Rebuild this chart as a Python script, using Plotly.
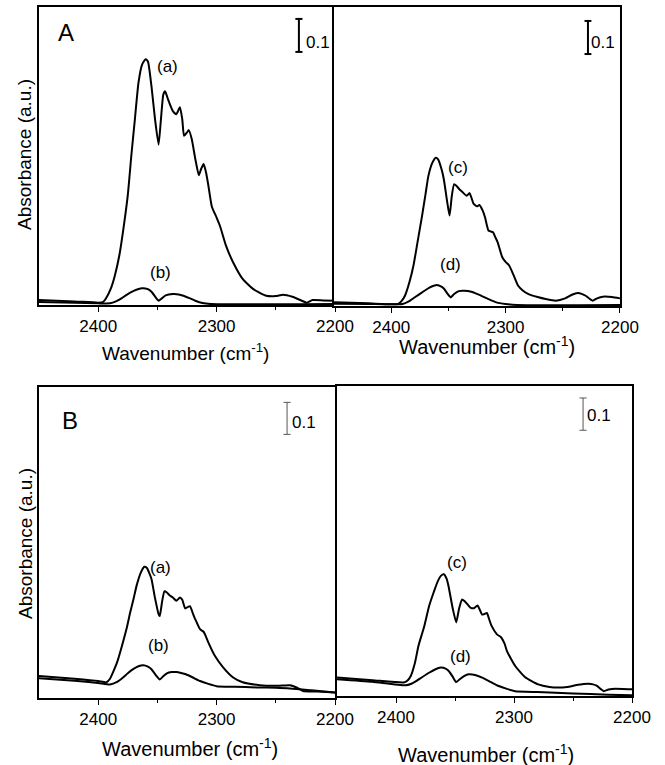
import plotly.graph_objects as go

# ---------------- data (wavenumber, absorbance) ----------------
A_a_x = [2450, 2420, 2400, 2396, 2393, 2389, 2386, 2382, 2379, 2375, 2372, 2369, 2366, 2363, 2360, 2358,
         2355, 2352, 2349, 2347, 2345, 2343.5, 2341, 2337, 2334, 2331, 2329, 2327.5, 2325, 2323.5, 2321,
         2318, 2315, 2313, 2311, 2309, 2307, 2304, 2300, 2297, 2292, 2286, 2278, 2269, 2258, 2250, 2244,
         2236, 2228, 2224, 2219, 2210, 2200]
A_a_y = [0.012, 0.008, 0.004, 0.006, 0.02, 0.05, 0.085, 0.15, 0.22, 0.33, 0.45, 0.56, 0.67, 0.725, 0.742, 0.735,
         0.66, 0.56, 0.483, 0.56, 0.635, 0.645, 0.62, 0.585, 0.575, 0.596, 0.56, 0.51, 0.52, 0.527, 0.5,
         0.44, 0.39, 0.41, 0.424, 0.40, 0.36, 0.295, 0.262, 0.235, 0.176, 0.126, 0.076, 0.045, 0.025, 0.024, 0.028,
         0.022, 0.01, 0.004, 0.012, 0.011, 0.010]

A_b_x = [2450, 2420, 2400, 2390, 2385, 2380, 2376, 2370, 2363, 2358, 2355, 2351, 2349, 2346, 2343, 2337,
         2332, 2328, 2323, 2318, 2312, 2305, 2200]
A_b_y = [0.006, 0.004, 0.002, 0.002, 0.008, 0.018, 0.028, 0.040, 0.048, 0.045, 0.037, 0.018, 0.010, 0.018, 0.026, 0.030,
         0.029, 0.025, 0.018, 0.010, 0.003, 0.0, 0.0]

A_c_x = [2450, 2420, 2394, 2391, 2388, 2384, 2380.5, 2377, 2373, 2370, 2367.5, 2364, 2361, 2359, 2356, 2354,
         2351, 2349, 2347, 2345, 2343, 2340, 2338, 2334, 2331.5, 2329, 2328, 2325, 2323, 2320, 2318, 2315,
         2313, 2311, 2309, 2307, 2303, 2300, 2297, 2293, 2289, 2285, 2280, 2272, 2265, 2256, 2248, 2242,
         2237, 2233, 2230, 2224, 2220, 2215, 2207, 2200]
A_c_y = [0.008, 0.005, 0.003, 0.012, 0.028, 0.07, 0.12, 0.19, 0.27, 0.335, 0.39, 0.43, 0.445, 0.44, 0.41, 0.38,
         0.31, 0.27, 0.33, 0.365, 0.36, 0.348, 0.342, 0.33, 0.338, 0.315, 0.306, 0.298, 0.302, 0.285, 0.265, 0.225,
         0.222, 0.22, 0.205, 0.19, 0.145, 0.13, 0.12, 0.09, 0.058, 0.044, 0.033, 0.024, 0.018, 0.013, 0.02, 0.031,
         0.036, 0.033, 0.028, 0.013, 0.02, 0.025, 0.024, 0.02]

A_d_x = [2450, 2420, 2390, 2385, 2380, 2373, 2367, 2361, 2357, 2354, 2351, 2348, 2345, 2341, 2336, 2330,
         2324, 2315, 2308, 2300, 2290, 2200]
A_d_y = [0.004, 0.003, 0.003, 0.01, 0.022, 0.038, 0.052, 0.06, 0.057, 0.05, 0.035, 0.023, 0.033, 0.042, 0.043, 0.04,
         0.032, 0.018, 0.008, 0.003, 0.0, 0.0]

B_a_x = [2450, 2420, 2400, 2393, 2390, 2387.5, 2384, 2380, 2376, 2373, 2370, 2367.5, 2364, 2361, 2359, 2357,
         2355, 2352, 2349, 2348, 2346, 2344, 2342, 2340, 2337, 2334, 2331, 2329, 2326.5, 2324, 2322.5, 2320,
         2318, 2314, 2311, 2309, 2307, 2301.5, 2294.5, 2286, 2278, 2263.5, 2252, 2244, 2238, 2232, 2227,
         2215, 2200]
B_a_y = [0.067, 0.058, 0.051, 0.047, 0.058, 0.078, 0.11, 0.16, 0.215, 0.265, 0.31, 0.35, 0.39, 0.408, 0.405, 0.39,
         0.37, 0.31, 0.26, 0.254, 0.3, 0.332, 0.328, 0.32, 0.312, 0.302, 0.312, 0.305, 0.278, 0.283, 0.285, 0.262,
         0.244, 0.213, 0.205, 0.19, 0.172, 0.13, 0.094, 0.062, 0.047, 0.038, 0.036, 0.037, 0.038, 0.03, 0.02,
         0.018, 0.015]

B_b_x = [2450, 2420, 2400, 2390, 2384, 2379, 2375, 2370.5, 2366, 2362, 2358, 2355, 2351, 2348, 2345, 2342,
         2338, 2334, 2330, 2326, 2320, 2314, 2307, 2300, 2285, 2266, 2250, 2238, 2220, 2200]
B_b_y = [0.06, 0.052, 0.045, 0.040, 0.048, 0.062, 0.075, 0.088, 0.097, 0.10, 0.096, 0.088, 0.068, 0.056, 0.066, 0.075,
         0.079, 0.079, 0.076, 0.072, 0.062, 0.051, 0.042, 0.035, 0.033, 0.031, 0.03, 0.028, 0.022, 0.015]

B_c_x = [2450, 2420, 2393.5, 2390.5, 2387.5, 2384, 2381, 2376, 2372, 2368, 2365, 2362, 2359.5, 2357, 2355.5, 2352,
         2349, 2346.5, 2344, 2342, 2339, 2337, 2334, 2331, 2329, 2327, 2325, 2323, 2321, 2319, 2314.5, 2311,
         2308, 2306, 2299, 2290.5, 2279.5, 2270, 2262.5, 2255, 2248, 2241, 2237, 2233, 2230, 2226, 2224, 2220,
         2217, 2208, 2200]
B_c_y = [0.055, 0.047, 0.04, 0.045, 0.06, 0.1, 0.153, 0.215, 0.276, 0.32, 0.35, 0.37, 0.375, 0.36, 0.338, 0.27,
         0.226, 0.27, 0.297, 0.292, 0.28, 0.272, 0.27, 0.278, 0.265, 0.25, 0.252, 0.255, 0.235, 0.215, 0.189, 0.18,
         0.16, 0.137, 0.091, 0.056, 0.034, 0.026, 0.024, 0.026, 0.031, 0.035, 0.036, 0.034, 0.03, 0.018, 0.013, 0.018,
         0.02, 0.02, 0.019]

B_d_x = [2450, 2420, 2392, 2387, 2383, 2378, 2372, 2367, 2362, 2358, 2355.5, 2352, 2349, 2346, 2342, 2338.5,
         2333, 2327, 2320, 2313, 2306, 2299, 2280, 2250, 2220, 2200]
B_d_y = [0.05, 0.042, 0.031, 0.036, 0.044, 0.056, 0.07, 0.08, 0.086, 0.083, 0.076, 0.058, 0.041, 0.05, 0.06, 0.065,
         0.063, 0.055, 0.042, 0.029, 0.02, 0.013, 0.01, 0.006, 0.002, 0.0]

tick_vals = [2400, 2300, 2200]
minor_vals = [2350, 2250]
scale_bar = 0.1

FONT = "Arial, Liberation Sans, sans-serif"

fig = go.Figure()

curves = [
    (A_a_x, A_a_y, "x", "y"), (A_b_x, A_b_y, "x", "y"),
    (A_c_x, A_c_y, "x2", "y2"), (A_d_x, A_d_y, "x2", "y2"),
    (B_a_x, B_a_y, "x3", "y3"), (B_b_x, B_b_y, "x3", "y3"),
    (B_c_x, B_c_y, "x4", "y4"), (B_d_x, B_d_y, "x4", "y4"),
]
for xs, ys, xa, ya in curves:
    fig.add_trace(go.Scatter(x=xs, y=ys, xaxis=xa, yaxis=ya, mode="lines",
                             line=dict(color="black", width=2, shape="spline", smoothing=0.5),
                             showlegend=False, hoverinfo="skip"))


def xax(domain, anchor):
    return dict(domain=domain, anchor=anchor, range=[2450, 2200], showline=True, mirror=True,
                linecolor="black", linewidth=1.5, ticks="outside", ticklen=5, tickcolor="black",
                tickvals=tick_vals, ticktext=[str(v) for v in tick_vals], automargin=False,
                minor=dict(tickvals=minor_vals, ticks="outside", ticklen=3, tickcolor="black"),
                tickfont=dict(family=FONT, size=17, color="black"), showgrid=False, zeroline=False)


def yax(domain, anchor, rng):
    return dict(domain=domain, anchor=anchor, range=rng, showline=True, mirror=True,
                linecolor="black", linewidth=1.5, showticklabels=False, ticks="", automargin=False,
                showgrid=False, zeroline=False)


fig.update_layout(
    template="none",
    width=665, height=765, autosize=False,
    margin=dict(l=0, r=0, t=0, b=0, pad=0, autoexpand=False),
    paper_bgcolor="white", plot_bgcolor="white",
    xaxis=xax([0.0586, 0.5038], "y"),
    yaxis=yax([0.6013, 0.9908], "x", [-0.003, 0.900]),
    xaxis2=xax([0.5023, 0.9323], "y2"),
    yaxis2=yax([0.6000, 0.9908], "x2", [-0.003, 0.900]),
    xaxis3=xax([0.0586, 0.5038], "y3"),
    yaxis3=yax([0.0876, 0.4941], "x3", [-0.002, 0.970]),
    xaxis4=xax([0.5068, 0.9504], "y4"),
    yaxis4=yax([0.0902, 0.4954], "x4", [-0.002, 0.958]),
)


def txt(px, py, s, size, angle=0):
    fig.add_annotation(x=px / 665, y=1 - py / 765, xref="paper", yref="paper", text=s,
                       showarrow=False, textangle=angle, xanchor="center", yanchor="middle",
                       font=dict(family=FONT, size=size, color="black"))


# scale bars (0.1 absorbance units)
bars = [("x", "y", 0.878, 0.764, "black", 2, 318, 42),
        ("x2", "y2", 0.888, 0.758, "black", 2, 603, 42),
        ("x3", "y3", 0.838, 0.822, "#555", 1, 304, 422),
        ("x4", "y4", 0.834, 0.821, "#555", 1, 599, 416)]
for xa, ya, xd, y0, col, w, tx, ty in bars:
    xr = xa + " domain"
    fig.add_shape(type="line", xref=xr, yref=ya, x0=xd, x1=xd, y0=y0, y1=y0 + scale_bar,
                  line=dict(color=col, width=w))
    for yy in (y0, y0 + scale_bar):
        fig.add_shape(type="line", xref=xr, yref=ya, x0=xd - 0.012, x1=xd + 0.012, y0=yy, y1=yy,
                      line=dict(color=col, width=w))
    txt(tx, ty, "0.1", 17)

txt(66, 33, "A", 24)
txt(70, 420, "B", 24)
txt(167, 66, "(a)", 17)
txt(160, 272, "(b)", 17)
txt(458, 167, "(c)", 17)
txt(451, 264, "(d)", 17)
txt(160, 567, "(a)", 17)
txt(158, 645, "(b)", 17)
txt(457, 562, "(c)", 17)
txt(460, 656, "(d)", 17)
txt(25, 155, "Absorbance (a.u.)", 19, -90)
txt(25, 544, "Absorbance (a.u.)", 19, -90)
txt(185, 352, "Wavenumber (cm<sup>-1</sup>)", 19)
txt(487, 346, "Wavenumber (cm<sup>-1</sup>)", 20)
txt(190, 747, "Wavenumber (cm<sup>-1</sup>)", 20)
txt(486, 753, "Wavenumber (cm<sup>-1</sup>)", 20)

fig.write_html("out.html")
